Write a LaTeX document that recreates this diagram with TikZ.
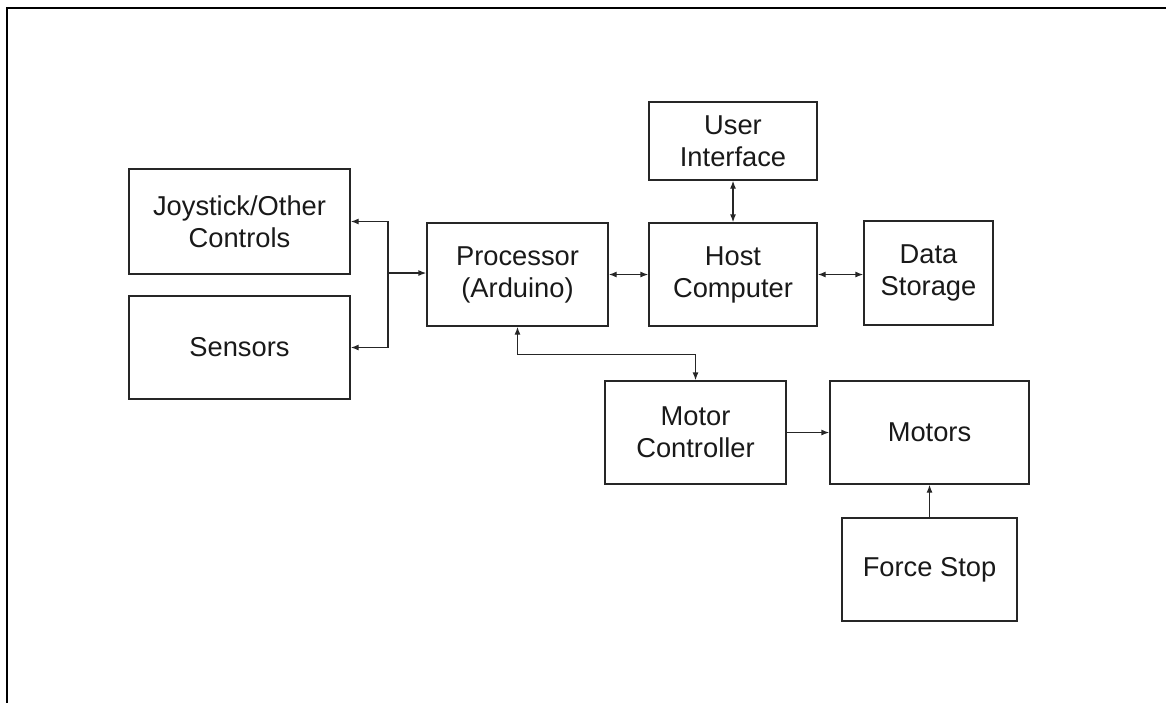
\documentclass[tikz,border=0pt]{standalone}
\usepackage{fontspec}
\setmainfont{Liberation Sans}
\usetikzlibrary{arrows.meta}
\begin{document}
\begin{tikzpicture}[x=1pt,y=-1pt,
  blk/.style={draw=black!85, line width=1.3pt, text=black!90, align=center, inner sep=0pt,
    font=\fontsize{27.3}{32}\selectfont},
  arr/.style={draw=black!85, line width=1.3pt, -{Latex[length=8pt,width=6pt]}},
  darr/.style={draw=black!85, line width=1.3pt, {Latex[length=8pt,width=6pt]}-{Latex[length=8pt,width=6pt]}}]
\useasboundingbox (0,0) rectangle (1166,702);
\draw[line width=2.2pt, line cap=rect] (7,702) -- (7,8) -- (1166,8);
\node[blk, minimum width=221pt, minimum height=105pt] (joy) at (239.5,221.5) {Joystick/Other\\Controls};
\node[blk, minimum width=221pt, minimum height=103pt] (sens) at (239.5,347.5) {Sensors};
\node[blk, minimum width=181pt, minimum height=103pt] (proc) at (517.5,274.5) {Processor\\(Arduino)};
\node[blk, minimum width=168pt, minimum height=103pt] (host) at (733,274.5) {Host\\Computer};
\node[blk, minimum width=168pt, minimum height=78pt] (ui) at (733,141) {User\\Interface};
\node[blk, minimum width=129pt, minimum height=104pt] (data) at (928.5,273) {Data\\Storage};
\node[blk, minimum width=181pt, minimum height=103pt] (mc) at (695.5,432.5) {Motor\\Controller};
\node[blk, minimum width=199pt, minimum height=103pt] (motors) at (929.5,432.5) {Motors};
\node[blk, minimum width=175pt, minimum height=103pt] (fs) at (929.5,569.5) {Force Stop};
\coordinate (bus) at (388,273);
\draw[arr] (bus) |- (joy.east);
\draw[arr] (bus) |- (sens.east);
\draw[arr] (bus) -- (bus -| proc.west);
\draw[darr] (proc.east) -- (host.west);
\draw[darr] (ui.south) -- (host.north);
\draw[darr] (host.east) -- (host.east -| data.west);
\draw[darr] (proc.south) -- ++(0,28) -| (mc.north);
\draw[arr] (mc.east) -- (motors.west);
\draw[arr] (fs.north) -- (motors.south);
\end{tikzpicture}
\end{document}
